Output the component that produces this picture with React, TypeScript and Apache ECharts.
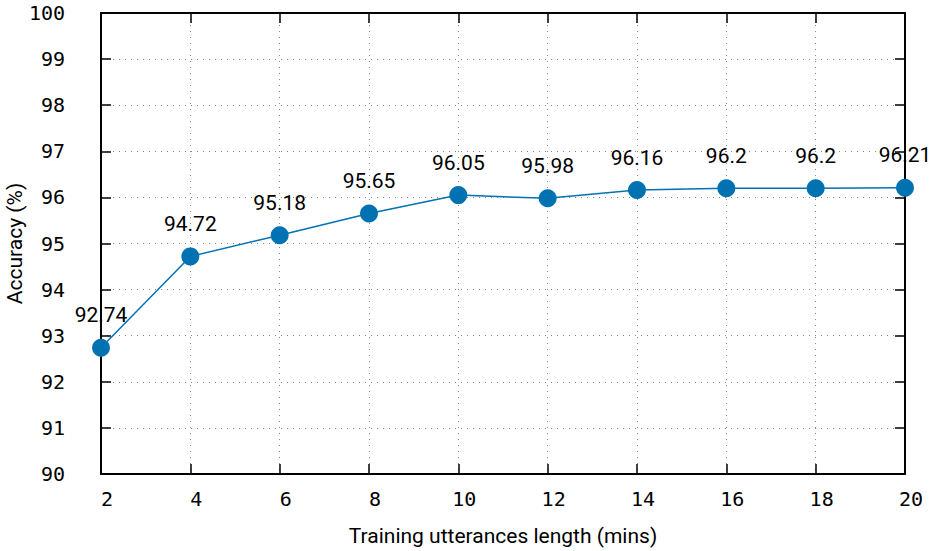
import React, { useEffect, useRef } from "react";
import * as echarts from "echarts";

const minutes = [2, 4, 6, 8, 10, 12, 14, 16, 18, 20];
const accuracy = [92.74, 94.72, 95.18, 95.65, 96.05, 95.98, 96.16, 96.2, 96.2, 96.21];
const xTitle = "Training utterances length (mins)";
const yTitle = "Accuracy (%)";

const monoFont = "DejaVu Sans Mono";
const sansFont = "Roboto";

export default function App() {
  const ref = useRef<HTMLDivElement>(null);
  useEffect(() => {
    const chart = echarts.init(ref.current!, null, { renderer: "svg" });
    const axisLine = { show: true, lineStyle: { color: "#000", width: 2 } };
    const tick = { show: true, inside: true, length: 10, lineStyle: { color: "#000", width: 1.5 } };
    const split = { show: true, lineStyle: { color: "#888", width: 1, type: [1, 5] as any } };
    chart.setOption({
      animation: false,
      backgroundColor: "#fff",
      grid: { left: 101, right: 25, top: 13, bottom: 77, containLabel: false, outerBoundsMode: "none" },
      xAxis: [
        {
          type: "value",
          min: 2,
          max: 20,
          interval: 2,
          position: "bottom",
          axisLine,
          axisTick: tick,
          splitLine: split,
          axisLabel: { fontFamily: monoFont, fontSize: 20, color: "#000", margin: 15, padding: [0, 0, 0, 12] },
          name: xTitle,
          nameLocation: "middle",
          nameGap: 51,
          nameMoveOverlap: false,
          nameTextStyle: { fontFamily: sansFont, fontSize: 21, color: "#000" },
        },
        {
          type: "value",
          min: 2,
          max: 20,
          interval: 2,
          position: "top",
          axisLine,
          axisTick: tick,
          splitLine: { show: false },
          axisLabel: { show: false },
        },
      ],
      yAxis: [
        {
          type: "value",
          min: 90,
          max: 100,
          interval: 1,
          position: "left",
          axisLine,
          axisTick: tick,
          splitLine: split,
          axisLabel: { fontFamily: monoFont, fontSize: 20, color: "#000", margin: 36 },
          name: yTitle,
          nameLocation: "middle",
          nameGap: 76,
          nameMoveOverlap: false,
          nameTextStyle: { fontFamily: sansFont, fontSize: 21, color: "#000" },
        },
        {
          type: "value",
          min: 90,
          max: 100,
          interval: 1,
          position: "right",
          axisLine,
          axisTick: tick,
          splitLine: { show: false },
          axisLabel: { show: false },
        },
      ],
      series: [
        {
          type: "line",
          data: minutes.map((m, i) => [m, accuracy[i]]),
          xAxisIndex: 0,
          yAxisIndex: 0,
          clip: false,
          z: 10,
          symbol: "circle",
          symbolSize: 18,
          itemStyle: { color: "#0072b2" },
          lineStyle: { color: "#0072b2", width: 1.5 },
          label: {
            show: true,
            position: "top",
            distance: 13,
            fontFamily: sansFont,
            fontSize: 21,
            color: "#000",
            formatter: (p: any) => String(p.value[1]),
          },
        },
      ],
    });
    return () => chart.dispose();
  }, []);
  return <div ref={ref} style={{ position: "absolute", left: 0, top: 0, width: 930, height: 551 }} />;
}
